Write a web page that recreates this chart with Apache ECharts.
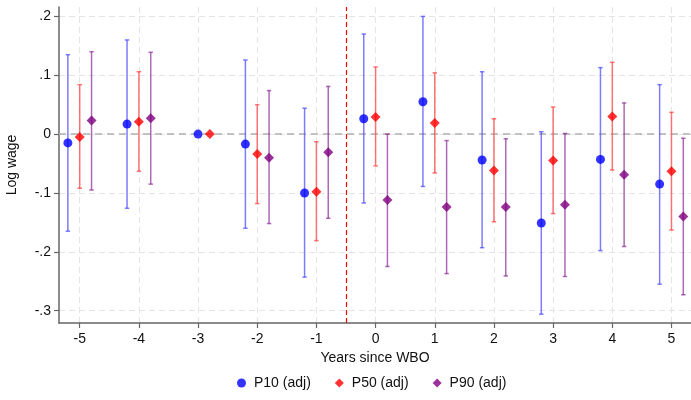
<!DOCTYPE html>
<html><head><meta charset="utf-8">
<script src="https://cdn.jsdelivr.net/npm/echarts@6/dist/echarts.min.js"></script>
<style>html,body{margin:0;padding:0;background:#fff}#c{width:691px;height:400px}</style>
</head><body><div id="c"></div>
<script>
const years = [-5,-4,-3,-2,-1,0,1,2,3,4,5];
const xTicks = [-5,-4,-3,-2,-1,0,1,2,3,4,5];
const yTicks = [-0.3,-0.2,-0.1,0,0.1,0.2];
const yTickLabels = ['-.3','-.2','-.1','0','.1','.2'];

const p10   = [-0.015, 0.017, 0, -0.017, -0.100, 0.026, 0.055, -0.044, -0.151, -0.043, -0.085];
const p10Lo = [-0.165, -0.126, null, -0.160, -0.243, -0.117, -0.089, -0.193, -0.306, -0.198, -0.255];
const p10Hi = [0.135, 0.160, null, 0.126, 0.044, 0.170, 0.200, 0.106, 0.004, 0.113, 0.084];
const p10Dodge = [-0.2,-0.2,0,-0.2,-0.2,-0.2,-0.2,-0.2,-0.2,-0.2,-0.2];

const p50   = [-0.005, 0.021, 0, -0.034, -0.098, 0.029, 0.019, -0.062, -0.045, 0.030, -0.063];
const p50Lo = [-0.092, -0.063, null, -0.118, -0.181, -0.054, -0.066, -0.149, -0.135, -0.061, -0.163];
const p50Hi = [0.084, 0.106, null, 0.050, -0.013, 0.114, 0.104, 0.026, 0.046, 0.122, 0.037];
const p50Dodge = [0,0,0.2,0,0,0,0,0,0,0,0];

const p90   = [0.023, 0.027, null, -0.040, -0.031, -0.112, -0.124, -0.124, -0.120, -0.069, -0.140];
const p90Lo = [-0.095, -0.085, null, -0.152, -0.143, -0.225, -0.237, -0.241, -0.242, -0.191, -0.273];
const p90Hi = [0.140, 0.139, null, 0.074, 0.081, 0.000, -0.011, -0.008, 0.001, 0.053, -0.007];
const p90Dodge = [0.2,0.2,0.2,0.2,0.2,0.2,0.2,0.2,0.2,0.2,0.2];

const eventLine = -0.5;

const chart = echarts.init(document.getElementById('c'), null, {renderer:'canvas'});

function pts(v, d){ return years.map((y,i)=> v[i]==null ? null : [y + d[i], v[i]]).filter(Boolean); }
function bars(lo, hi, d){ return years.map((y,i)=> (lo[i]==null||hi[i]==null) ? null : [y + d[i], lo[i], hi[i]]).filter(Boolean); }

function errSeries(name, data, color){
  return {
    type:'custom', name: name+'_ci', data: data, z: 2, silent:true,
    encode:{x:0, y:[1,2]},
    renderItem: function(params, api){
      const x = api.value(0);
      const lo = api.coord([x, api.value(1)]);
      const hi = api.coord([x, api.value(2)]);
      const w = 2.2;
      const st = {stroke: color, lineWidth: 1.5};
      return {type:'group', children:[
        {type:'line', shape:{x1:lo[0],y1:lo[1],x2:hi[0],y2:hi[1]}, style:st},
        {type:'line', shape:{x1:lo[0]-w,y1:lo[1],x2:lo[0]+w,y2:lo[1]}, style:st},
        {type:'line', shape:{x1:hi[0]-w,y1:hi[1],x2:hi[0]+w,y2:hi[1]}, style:st}
      ]};
    }
  };
}

const font = 'Liberation Sans, Arial, Helvetica, sans-serif';

chart.setOption({
  animation:false,
  textStyle:{fontFamily:font},
  grid:{left:59, right:0, top:7, bottom:77, containLabel:false, outerBoundsMode:'none'},
  legend:{
    bottom: 5, left: 232,
    itemWidth: 9, itemHeight: 9, itemGap: 24,
    textStyle:{fontSize:14, color:'#111', fontFamily:font, padding:[0,0,0,3]},
    data:[
      {name:'P10 (adj)', icon:'circle'},
      {name:'P50 (adj)', icon:'diamond'},
      {name:'P90 (adj)', icon:'diamond'}
    ]
  },
  xAxis:{
    type:'value', min:-5.35, max:5.33,
    name:'Years since WBO', nameLocation:'middle', nameGap:28,
    nameTextStyle:{fontSize:14, color:'#111', fontFamily:font},
    axisLine:{onZero:false, lineStyle:{color:'#666', width:1.5}},
    axisTick:{show:true, length:5, lineStyle:{color:'#666', width:1.2}, customValues:xTicks},
    axisLabel:{fontSize:14, color:'#111', margin:9, customValues:xTicks, formatter:v=>String(v)},
    splitLine:{show:true, lineStyle:{color:'#e4e4e4', type:[6,4], width:1}}
  },
  yAxis:{
    type:'value', min:-0.321, max:0.216,
    name:'Log wage', nameLocation:'middle', nameGap:40,
    nameTextStyle:{fontSize:14, color:'#111', fontFamily:font},
    axisLine:{show:true, onZero:false, lineStyle:{color:'#666', width:1.5}},
    axisTick:{show:true, length:5, lineStyle:{color:'#666', width:1.2}, customValues:yTicks},
    axisLabel:{fontSize:14, color:'#111', margin:8, customValues:yTicks,
      formatter:function(v){ const i = yTicks.findIndex(t=>Math.abs(t-v)<1e-6); return i>=0 ? yTickLabels[i] : ''; }},
    splitLine:{show:true, lineStyle:{color:'#e4e4e4', type:[6,4], width:1}}
  },
  series:[
    errSeries('P10 (adj)', bars(p10Lo,p10Hi,p10Dodge), 'rgba(80,80,255,0.75)'),
    errSeries('P50 (adj)', bars(p50Lo,p50Hi,p50Dodge), 'rgba(255,70,70,0.75)'),
    errSeries('P90 (adj)', bars(p90Lo,p90Hi,p90Dodge), 'rgba(140,40,150,0.7)'),
    {type:'scatter', name:'P10 (adj)', data:pts(p10,p10Dodge), symbol:'circle', symbolSize:9, z:5,
      itemStyle:{color:'#0000ff'},
      markLine:{silent:true, symbol:'none', label:{show:false}, z:1,
        lineStyle:{color:'#b0b0b0', type:[7,5], width:1.6},
        data:[{yAxis:0}]}},
    {type:'scatter', name:'P50 (adj)', data:pts(p50,p50Dodge), symbol:'diamond', symbolSize:10, z:5,
      itemStyle:{color:'#ff0000'},
      markLine:{silent:true, symbol:'none', label:{show:false}, z:3,
        lineStyle:{color:'#ff0000', type:[5,3], width:1.2},
        data:[{xAxis:eventLine}]}},
    {type:'scatter', name:'P90 (adj)', data:pts(p90,p90Dodge), symbol:'diamond', symbolSize:10, z:5,
      itemStyle:{color:'#800080'}}
  ]
});
</script>
</body></html>
